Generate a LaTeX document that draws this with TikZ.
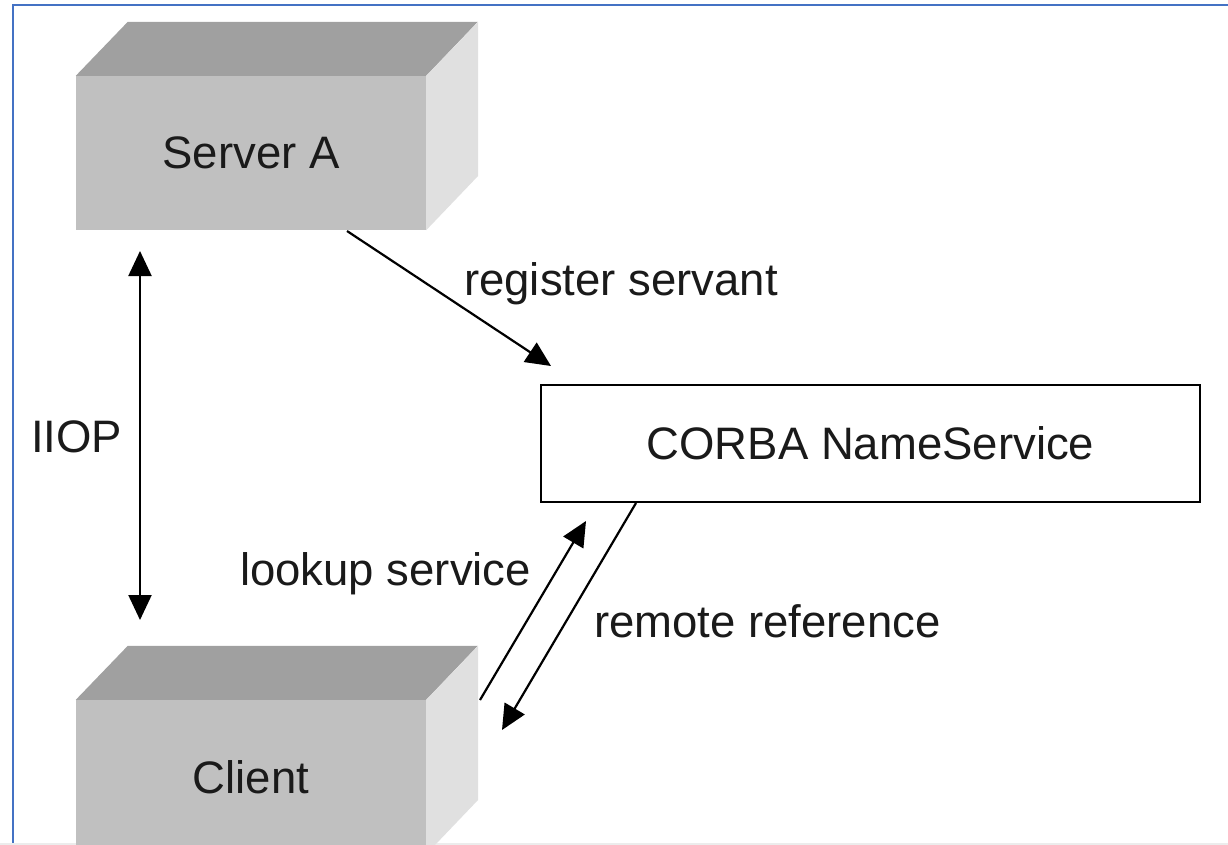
\documentclass[tikz,border=0pt]{standalone}
\usepackage{fontspec}
\setmainfont{Liberation Sans}
\usetikzlibrary{arrows.meta}
\definecolor{frameblue}{HTML}{4472C4}
\definecolor{boxtop}{HTML}{A0A0A0}
\definecolor{boxfront}{HTML}{C0C0C0}
\definecolor{boxside}{HTML}{E0E0E0}
\definecolor{ink}{HTML}{1A1A1A}

\begin{document}
\begin{tikzpicture}[x=1pt, y=-1pt,
		lbl/.style={inner sep=0pt, text=ink, font=\fontsize{45.5}{54}\selectfont},
		front/.style={lbl, fill=boxfront, minimum width=350pt, minimum height=154pt},
		arr/.style={draw=black, line width=2.2pt, -{Triangle[length=25pt, width=23pt]}},
		darr/.style={arr, {Triangle[length=25pt, width=23pt]}-{Triangle[length=25pt, width=23pt]}}]
		\path[use as bounding box, clip] (0,0) rectangle (1228,845);
		\fill[white] (0,0) rectangle (1228,845);
		
		% frame
		\draw[frameblue, line width=2.5pt] (13,845) -- (13,5) -- (1228,5);
		\draw[gray!15, line width=3pt] (0,844) -- (1228,844);
		
		% boxes
		\node[front] (server) at (251,153) {Server A};
		\fill[boxtop] (server.north west) -- ++(52,-54) -- ++(350,0) -- (server.north east) -- cycle;
		\fill[boxside] (server.north east) -- ++(52,-54) -- ++(0,154) -- (server.south east) -- cycle;
		
		\node[front] (client) at (251,777) {Client};
		\fill[boxtop] (client.north west) -- ++(52,-54) -- ++(350,0) -- (client.north east) -- cycle;
		\fill[boxside] (client.north east) -- ++(52,-54) -- ++(0,154) -- (client.south east) -- cycle;
		
		\node[lbl, draw=black, line width=2.2pt, fill=white, minimum width=659pt, minimum height=117pt] (ns) at (870.5,443.5) {CORBA NameService};
		
		% labels
		\node[lbl, anchor=base west] (iiop) at (31,452) {IIOP};
		\node[lbl, anchor=base west] (regl) at (464,295) {register servant};
		\node[lbl, anchor=base west] (lookl) at (240,585) {lookup service};
		\node[lbl, anchor=base west] (reml) at (594,637) {remote reference};
		
		% end points
		\coordinate (iiop-a) at (140,251);
		\coordinate (iiop-b) at (140,620);
		\coordinate (reg-a) at (347,231);
		\coordinate (reg-b) at (551,366);
		\coordinate (look-a) at (480,700);
		\coordinate (look-b) at (586,521);
		\coordinate (rem-a) at (636,503);
		\coordinate (rem-b) at (502,730);
		
		\draw[darr] (iiop-a) -- (iiop-b);
		\draw[arr] (reg-a) -- (reg-b);
		\draw[arr] (look-a) -- (look-b);
		\draw[arr] (rem-a) -- (rem-b);
		
	\end{tikzpicture}
\end{document}
